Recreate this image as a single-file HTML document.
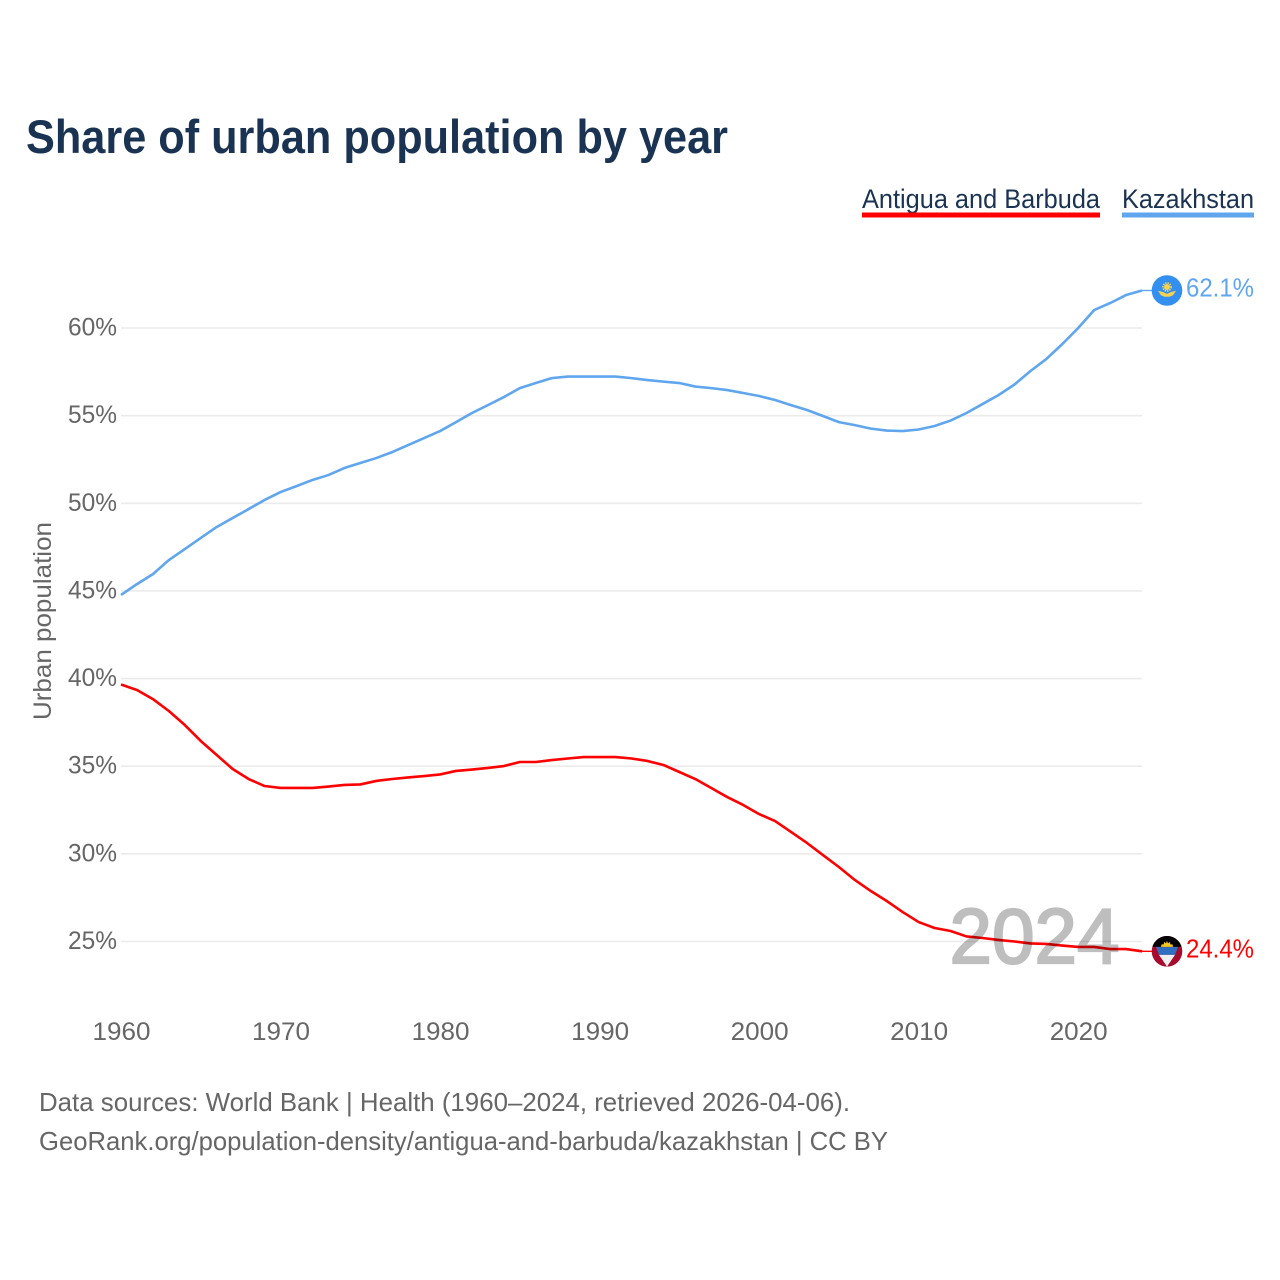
<!DOCTYPE html>
<html lang="en">
<head>
<meta charset="utf-8">
<title>Share of urban population by year</title>
<style>
html,body{margin:0;padding:0;background:#fff;}
svg{display:block;font-family:"Liberation Sans",sans-serif;}
</style>
</head>
<body>
<svg id="chart" xmlns="http://www.w3.org/2000/svg" width="1280" height="1280" viewBox="0 0 1280 1280">
  <rect width="1280" height="1280" fill="#ffffff"/>
  <text x="26" y="153" font-size="47" font-weight="700" fill="#1a3352" textLength="702" lengthAdjust="spacingAndGlyphs">Share of urban population by year</text>

  <g>
    <g>
      <text x="862" y="208" font-size="27" fill="#1a3352" textLength="238" lengthAdjust="spacingAndGlyphs">Antigua and Barbuda</text>
      <rect x="862" y="212.5" width="238" height="5" fill="#ff0000"/>
    </g>
    <g>
      <text x="1122" y="208" font-size="27" fill="#1a3352" textLength="132" lengthAdjust="spacingAndGlyphs">Kazakhstan</text>
      <rect x="1122" y="212.5" width="132" height="5" fill="#5fa6ee"/>
    </g>
  </g>

  <text transform="translate(51 720) rotate(-90)" font-size="25" fill="#666666" textLength="198" lengthAdjust="spacingAndGlyphs">Urban population</text>

  <g id="grid"></g>
  <g id="yticks"></g>
  <g id="xticks"></g>
  <g id="series"></g>

  <defs>
    <clipPath id="flag-clip"><circle cx="0" cy="0" r="15.3"/></clipPath>
  </defs>

  <g id="flag-kaz">
    <circle r="15.3" fill="#3390f0"/>
    <circle cx="0" cy="-3.5" r="3" fill="#f7d350"/>
    <circle cx="0" cy="-3.5" r="4" fill="none" stroke="#f7d350" stroke-width="1.6" stroke-dasharray="1.4 1"/>
    <path d="M-9 0.2 L-4.5 1.4 L0 3.4 L4.5 1.4 L9 0.2 L6 4.8 L2.5 6.2 L-2.5 6.2 L-6 4.8 Z" fill="#f7d350"/>
  </g>

  <g id="flag-atg">
    <g clip-path="url(#flag-clip)">
      <rect x="-16" y="-16" width="32" height="32" fill="#a60a2c"/>
      <rect x="-16" y="-16" width="32" height="11.5" fill="#000000"/>
      <path d="M-11 -4.5H11L8 3.5H-8Z" fill="#2f6fc0"/>
      <path d="M-8 3.5H8L0 15.3Z" fill="#f0f0f0"/>
      <path d="M-6 -4.5 L-5.5 -7 L-3.2 -7 L-3 -9.5 L-1 -8 L0 -10.5 L1 -8 L3 -9.5 L3.2 -7 L5.5 -7 L6 -4.5Z" fill="#f7c820"/>
    </g>
  </g>

  <g id="labels"></g>

  <text x="949.5" y="963" font-size="78" fill="#000000" stroke="#000000" stroke-width="2.2" opacity="0.25" textLength="170" lengthAdjust="spacingAndGlyphs">2024</text>

  <text x="39" y="1111" font-size="26" fill="#666666" textLength="811" lengthAdjust="spacingAndGlyphs">Data sources: World Bank | Health (1960–2024, retrieved 2026-04-06).</text>
  <text x="39" y="1150" font-size="26" fill="#666666" textLength="849" lengthAdjust="spacingAndGlyphs">GeoRank.org/population-density/antigua-and-barbuda/kazakhstan | CC BY</text>
</svg>

<script>
const years = [1960,1961,1962,1963,1964,1965,1966,1967,1968,1969,1970,1971,1972,1973,1974,1975,1976,1977,1978,1979,1980,1981,1982,1983,1984,1985,1986,1987,1988,1989,1990,1991,1992,1993,1994,1995,1996,1997,1998,1999,2000,2001,2002,2003,2004,2005,2006,2007,2008,2009,2010,2011,2012,2013,2014,2015,2016,2017,2018,2019,2020,2021,2022,2023,2024];
const kazakhstanValues = [44.77,45.39,45.96,46.76,47.39,48.02,48.65,49.16,49.67,50.19,50.64,50.98,51.33,51.61,52.01,52.30,52.58,52.92,53.32,53.72,54.12,54.63,55.15,55.60,56.06,56.57,56.86,57.14,57.23,57.23,57.23,57.23,57.14,57.03,56.94,56.86,56.66,56.57,56.46,56.29,56.12,55.89,55.60,55.32,54.98,54.63,54.46,54.26,54.15,54.12,54.21,54.41,54.72,55.15,55.66,56.17,56.77,57.54,58.23,59.08,60.00,61.02,61.42,61.88,62.14];
const antiguaValues = [39.66,39.35,38.83,38.15,37.35,36.44,35.64,34.84,34.27,33.87,33.76,33.76,33.76,33.84,33.93,33.96,34.16,34.27,34.36,34.44,34.53,34.73,34.81,34.90,35.01,35.24,35.24,35.35,35.44,35.52,35.52,35.52,35.44,35.30,35.07,34.67,34.27,33.76,33.24,32.79,32.27,31.87,31.25,30.62,29.93,29.25,28.51,27.88,27.31,26.68,26.11,25.77,25.60,25.29,25.20,25.09,25.00,24.89,24.86,24.77,24.69,24.69,24.57,24.57,24.44];
const yTickValues = [25,30,35,40,45,50,55,60];
const xTickValues = [1960,1970,1980,1990,2000,2010,2020];

const NS = 'http://www.w3.org/2000/svg';
const xPlotLeft = 121, xPlotRight = 1142;
const y25 = 941.5, y60 = 328;
function xScale(year){ return xPlotLeft + (year - 1960) * (xPlotRight - xPlotLeft) / (2024 - 1960); }
function yScale(v){ return y25 + (v - 25) * (y60 - y25) / (60 - 25); }
function mk(tag, parent, attrs){
  const el = document.createElementNS(NS, tag);
  Object.keys(attrs).forEach(function(k){ el.setAttribute(k, attrs[k]); });
  parent.appendChild(el);
  return el;
}

const grid = document.getElementById('grid');
const yticks = document.getElementById('yticks');
const xticks = document.getElementById('xticks');
const seriesGroup = document.getElementById('series');
const labels = document.getElementById('labels');

yTickValues.forEach(function(v){
  const line = mk('line', grid, {x1:121, x2:1142, y1:yScale(v), y2:yScale(v), stroke:'#ebebeb', 'stroke-width':1.6});
  
  
  const t = mk('text', yticks, {x:117, y:yScale(v)+7.5, 'text-anchor':'end', 'font-size':25, fill:'#666666', textLength:49, lengthAdjust:'spacingAndGlyphs'});
  t.textContent = v + '%';
  
  
});

xTickValues.forEach(function(yr){
  const t = mk('text', xticks, {x:xScale(yr)+0.5, y:1040, 'text-anchor':'middle', 'font-size':25, fill:'#666666', textLength:58, lengthAdjust:'spacingAndGlyphs'});
  t.textContent = String(yr);
  
  
});

function drawSeries(values, color){
  const d = values.map(function(v,i){ return (i ? 'L' : 'M') + xScale(years[i]).toFixed(2) + ' ' + yScale(v).toFixed(2); }).join(' ');
  return mk('path', seriesGroup, {d:d, fill:'none', stroke:color, 'stroke-width':2.6, 'stroke-linejoin':'round'});
}

const antiguaLine = drawSeries(antiguaValues, '#ff0000');


const kazakhstanLine = drawSeries(kazakhstanValues, '#5fa6ee');



function endMarker(values, color, flagId){
  const last = values[values.length - 1];
  const yy = yScale(last);
  const lastX = xScale(years[years.length - 1]);
  const conn = mk('line', seriesGroup, {x1:lastX, x2:1152, y1:yy, y2:yy, stroke:color, 'stroke-width':1.4});
  
  
  document.getElementById(flagId).setAttribute('transform', 'translate(1167 ' + yy.toFixed(2) + ')');
  const t = mk('text', labels, {x:1186, y:(yy + 6).toFixed(2), 'font-size':26, fill:color, textLength:68, lengthAdjust:'spacingAndGlyphs'});
  t.textContent = last.toFixed(1) + '%';
  
  
}
endMarker(kazakhstanValues, '#5fa6ee', 'flag-kaz');
endMarker(antiguaValues, '#ff0000', 'flag-atg');
</script>
</body>
</html>
